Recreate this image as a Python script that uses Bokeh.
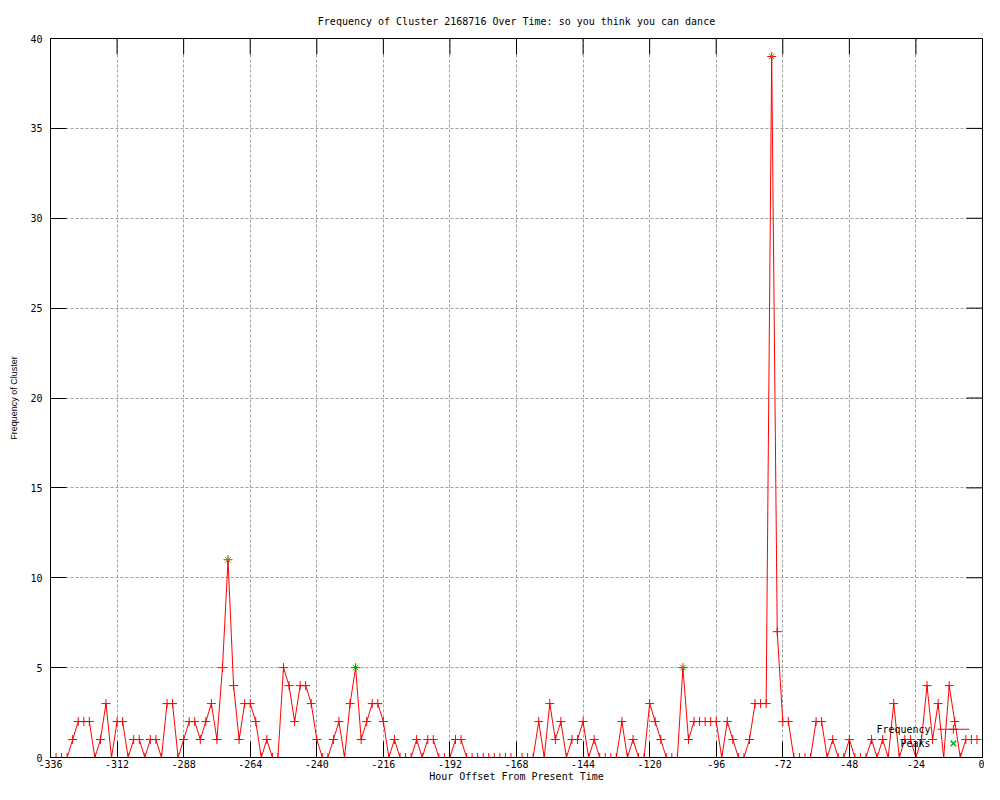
import math
from bokeh.plotting import figure
from bokeh.models import Range1d, Label, FixedTicker
from bokeh.embed import file_html
from bokeh.resources import INLINE

# ---- data ----
hours = list(range(-336, 0, 2))
frequency = [
    0, 0, 0, 0, 1, 2, 2, 2, 0, 1,
    3, 0, 2, 2, 0, 1, 1, 0, 1, 1,
    0, 3, 3, 0, 1, 2, 2, 1, 2, 3,
    1, 5, 11, 4, 1, 3, 3, 2, 0, 1,
    0, 0, 5, 4, 2, 4, 4, 3, 1, 0,
    0, 1, 2, 0, 3, 5, 1, 2, 3, 3,
    2, 0, 1, 0, 0, 0, 1, 0, 1, 1,
    0, 0, 0, 1, 1, 0, 0, 0, 0, 0,
    0, 0, 0, 0, 0, 0, 0, 0, 2, 0,
    3, 1, 2, 0, 1, 1, 2, 0, 1, 0,
    0, 0, 0, 2, 0, 1, 0, 0, 3, 2,
    1, 0, 0, 0, 5, 1, 2, 2, 2, 2,
    2, 0, 2, 1, 0, 0, 1, 3, 3, 3,
    39, 7, 2, 2, 0, 0, 0, 0, 2, 2,
    0, 1, 0, 0, 1, 0, 0, 0, 1, 0,
    1, 0, 3, 0, 1, 1, 0, 1, 4, 1,
    3, 0, 4, 2, 0, 1, 1, 1,
]
peak_hours = [-272, -226, -108, -76]
peak_values = [11, 5, 5, 39]
x_ticks = list(range(-336, 1, 24))
y_ticks = list(range(0, 41, 5))

title_text = "Frequency of Cluster 2168716 Over Time: so you think you can dance"
x_label = "Hour Offset From Present Time"
y_label = "Frequency of Cluster"
legend_labels = ["Frequency", "Peaks"]

RED = "#ff0000"
GREEN = "#00c000"
MONO = "DejaVu Sans Mono"
X0, X1 = -336, 0
Y0, Y1 = 0, 40

p = figure(width=984, height=784, output_backend="svg", toolbar_location=None,
           x_range=Range1d(X0, X1), y_range=Range1d(Y0, Y1),
           min_border_left=50, min_border_right=2,
           min_border_top=38, min_border_bottom=26)

p.background_fill_color = "white"
p.border_fill_color = "white"
p.outline_line_color = "black"
p.outline_line_width = 1

# title
p.title.text = title_text
p.title.align = "center"
p.title.text_font = MONO
p.title.text_font_size = "10px"
p.title.text_font_style = "normal"
p.title.text_color = "black"
p.title.standoff = 24

p.xaxis.ticker = FixedTicker(ticks=x_ticks)
p.yaxis.ticker = FixedTicker(ticks=y_ticks)

for ax in list(p.xaxis) + list(p.yaxis):
    ax.axis_line_color = "black"
    ax.major_tick_line_color = "black"
    ax.major_tick_in = 16
    ax.major_tick_out = 0
    ax.minor_tick_line_color = None
    ax.major_label_text_font = MONO
    ax.major_label_text_font_size = "10px"
    ax.major_label_text_color = "black"
    ax.major_label_standoff = 8

xa = p.xaxis[0]
xa.major_label_standoff = 2
xa.major_label_overrides = {t: str(t) for t in x_ticks}
xa.axis_label = x_label
xa.axis_label_text_font = MONO
xa.axis_label_text_font_size = "10px"
xa.axis_label_text_font_style = "normal"
xa.axis_label_text_color = "black"
xa.axis_label_standoff = 0

ya = p.yaxis[0]
ya.axis_label = y_label
ya.axis_label_text_font = "Liberation Sans"
ya.axis_label_text_font_size = "9px"
ya.axis_label_text_font_style = "normal"
ya.axis_label_text_color = "black"
ya.axis_label_standoff = 8

# grid
for g in (p.xgrid[0], p.ygrid[0]):
    g.grid_line_color = "#a0a0a0"
    g.grid_line_dash = "3 2"
    g.grid_line_width = 1
p.xgrid[0].ticker = FixedTicker(ticks=x_ticks)
p.ygrid[0].ticker = FixedTicker(ticks=y_ticks)

# mirrored inward ticks on top and right edges
p.ray(x=x_ticks, y=[Y1] * len(x_ticks), length=16, length_units="screen",
      angle=-math.pi / 2, line_color="black", line_width=1)
p.ray(x=[X1] * len(y_ticks), y=y_ticks, length=16, length_units="screen",
      angle=math.pi, line_color="black", line_width=1)

# data
p.line(hours, frequency, line_color=RED, line_width=1)
p.scatter(hours, frequency, marker="cross", size=9, line_color=RED, line_width=1)
p.scatter(peak_hours, peak_values, marker="x", size=8, line_color=GREEN, line_width=1)

# legend (gnuplot style: label left of sample)
lx_text = -18.7
lx0, lx1, lxm = -16.2, -4.7, -10.5
ly_freq, ly_peak = 1.57, 0.78
p.add_layout(Label(x=lx_text, y=ly_freq, text=legend_labels[0], text_align="right",
                   text_baseline="middle", text_font=MONO, text_font_size="10px",
                   text_color="black"))
p.add_layout(Label(x=lx_text, y=ly_peak, text=legend_labels[1], text_align="right",
                   text_baseline="middle", text_font=MONO, text_font_size="10px",
                   text_color="black"))
p.line([lx0, lx1], [ly_freq, ly_freq], line_color=RED, line_width=1)
p.scatter([lxm], [ly_freq], marker="cross", size=9, line_color=RED, line_width=1)
p.scatter([lxm], [ly_peak], marker="x", size=8, line_color=GREEN, line_width=1.5)

open("out.html", "w").write(file_html(p, INLINE))
